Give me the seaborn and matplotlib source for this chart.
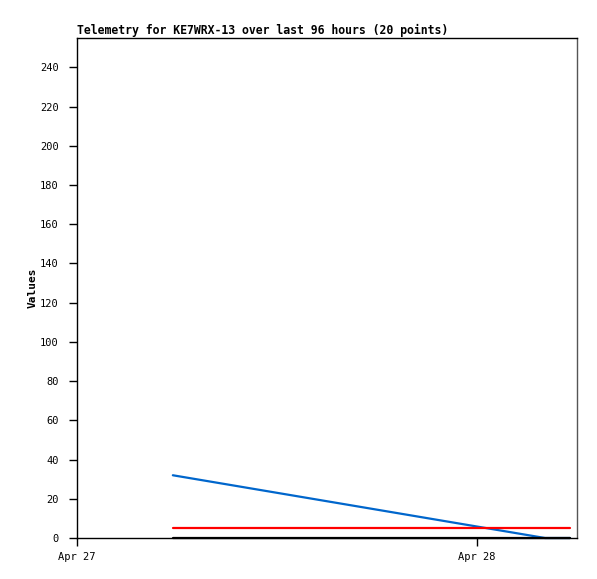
import pandas as pd
import matplotlib
matplotlib.use('Agg')
import matplotlib.pyplot as plt
import matplotlib.dates as mdates
import seaborn as sns

# Telemetry samples
times = ["2024-04-27 05:45", "2024-04-28 04:05", "2024-04-28 05:35"]
blue_vals = [32, 0, 0]
red_vals = [5, 5, 5]
black_vals = [0, 0, 0]

title = "Telemetry for KE7WRX-13 over last 96 hours (20 points)"
y_ticks = list(range(0, 241, 20))

df = pd.DataFrame({
    "time": pd.to_datetime(times * 3),
    "value": blue_vals + red_vals + black_vals,
    "series": ["blue"] * 3 + ["red"] * 3 + ["black"] * 3,
})

sns.set_style("white")
plt.rcParams['font.family'] = ['DejaVu Sans Mono']
plt.rcParams['text.color'] = 'black'
plt.rcParams['axes.labelcolor'] = 'black'
plt.rcParams['xtick.color'] = 'black'
plt.rcParams['ytick.color'] = 'black'

fig = plt.figure(figsize=(5.97, 5.79), dpi=100)
ax = fig.add_axes([0.129, 0.0708, 0.8375, 0.8636])

sns.lineplot(
    data=df, x="time", y="value", hue="series",
    palette={"blue": "#0066cc", "red": "#ff0000", "black": "#000000"},
    linewidth=1.6, legend=False, ax=ax, clip_on=False,
)

ax.set_xlim(pd.Timestamp("2024-04-27 00:00"), pd.Timestamp("2024-04-28 06:00"))
ax.set_ylim(0, 255)
ax.set_yticks(y_ticks)
ax.xaxis.set_major_locator(mdates.DayLocator())
ax.xaxis.set_major_formatter(mdates.DateFormatter("%b %d"))

ax.tick_params(axis="both", direction="out", length=6, width=1, color="black",
               labelsize=7.5, bottom=True, left=True)
ax.tick_params(axis="y", pad=7)
ax.tick_params(axis="x", pad=4)
for side in ["left", "bottom", "top"]:
    ax.spines[side].set_color("black")
    ax.spines[side].set_linewidth(1)
ax.spines["right"].set_color("#555555")
ax.spines["right"].set_linewidth(1)

ax.set_xlabel("")
ax.set_ylabel("Values", fontsize=8, fontweight="bold", labelpad=2)
ax.set_title(title, loc="left", fontsize=8.3, fontweight="bold", pad=3)

fig.savefig("out.png", dpi=100)
